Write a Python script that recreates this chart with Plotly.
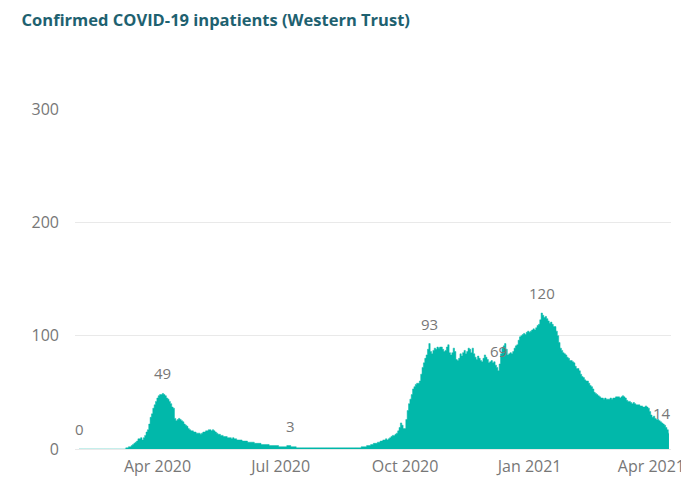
import pandas as pd
import plotly.graph_objects as go

# Daily confirmed COVID-19 inpatients, Western Trust
start_date = "2020-02-03"
feb2020 = [0] * 27
mar2020 = [0, 0, 0, 0, 0, 0, 0, 0, 1, 1, 2, 2, 3, 4, 5, 6, 7, 9, 9, 10, 8, 10, 12, 15, 17, 22, 28, 31, 36, 39, 42]
apr2020 = [45, 47, 48, 48, 49, 48, 47, 45, 44, 42, 40, 37, 36, 27, 25, 26, 27, 26, 25, 24, 22, 21, 20, 18, 17, 16, 16, 15, 15, 14]
may2020 = [14, 14, 13, 14, 15, 15, 16, 16, 17, 17, 16, 17, 16, 15, 14, 13, 13, 12, 12, 11, 11, 11, 10, 10, 10, 9, 10, 9, 9, 8, 8]
jun2020 = [8, 8, 7, 7, 7, 7, 6, 6, 6, 6, 6, 5, 5, 5, 5, 5, 4, 4, 4, 4, 4, 4, 3, 3, 3, 3, 3, 3, 3, 2]
jul2020 = [2, 2, 2, 2, 2, 3, 3, 3, 2, 2, 2, 2, 1, 1, 1, 1, 1, 1, 1, 1, 1, 1, 1, 1, 1, 1, 1, 1, 1, 1, 1]
aug2020 = [1, 1, 1, 1, 1, 1, 1, 1, 1, 1, 1, 1, 1, 1, 1, 1, 1, 1, 1, 1, 1, 1, 1, 1, 1, 1, 1, 1, 1, 2, 2]
sep2020 = [2, 2, 3, 3, 3, 4, 4, 5, 5, 5, 6, 6, 7, 7, 8, 8, 9, 8, 9, 10, 11, 12, 12, 13, 14, 16, 19, 23, 21, 18]
oct2020 = [18, 26, 34, 40, 44, 48, 53, 55, 57, 58, 58, 60, 66, 72, 76, 80, 83, 88, 93, 86, 84, 87, 89, 88, 90, 89, 90, 90, 88, 86, 87]
nov2020 = [90, 92, 85, 83, 85, 89, 86, 79, 78, 80, 84, 82, 85, 87, 84, 86, 89, 88, 85, 89, 84, 81, 79, 82, 80, 78, 77, 80, 83, 81]
dec2020 = [79, 76, 77, 78, 76, 77, 74, 72, 69, 75, 84, 89, 91, 93, 88, 83, 84, 85, 84, 86, 89, 91, 92, 96, 99, 100, 101, 102, 101, 103, 104]
jan2021 = [103, 104, 105, 106, 105, 107, 109, 110, 114, 120, 118, 116, 117, 115, 113, 111, 112, 110, 108, 108, 104, 100, 94, 89, 87, 85, 84, 83, 81, 80, 78]
feb2021 = [78, 77, 76, 73, 71, 71, 69, 66, 64, 63, 61, 60, 60, 58, 56, 55, 53, 50, 49, 48, 47, 46, 45, 45, 44, 45, 44, 44]
mar2021 = [44, 45, 44, 45, 45, 46, 46, 46, 45, 46, 47, 46, 45, 43, 42, 42, 41, 40, 41, 40, 39, 39, 39, 38, 38, 37, 37, 38, 37, 36, 33]
apr2021 = [30, 28, 29, 27, 26, 26, 25, 24, 23, 22, 21, 19, 17, 14]

# Dates that carry a data label in the original
label_dates = ["2020-02-03", "2020-04-05", "2020-07-08", "2020-10-19", "2020-12-09", "2021-01-10", "2021-04-14"]

y_ticks = [0, 100, 200, 300]
x_tick_dates = ["2020-04-01", "2020-07-01", "2020-10-01", "2021-01-01", "2021-04-01"]
x_tick_text = ["Apr 2020", "Jul 2020", "Oct 2020", "Jan 2021", "Apr 2021"]

values = (feb2020 + mar2020 + apr2020 + may2020 + jun2020 + jul2020 + aug2020 + sep2020
          + oct2020 + nov2020 + dec2020 + jan2021 + feb2021 + mar2021 + apr2021)
dates = pd.date_range(start_date, periods=len(values), freq="D")
series = pd.Series(values, index=dates)

TEAL = "#01B8AA"
LABEL_GREY = "#777777"
FONT = "Open Sans"

fig = go.Figure()
fig.add_trace(go.Scatter(
    x=dates, y=values, mode="lines", line=dict(color=TEAL, width=0.5, shape="hvh"),
    fill="tozeroy", fillcolor=TEAL, hoverinfo="x+y", showlegend=False,
))

last_date = dates[-1]
for d in label_dates:
    ts = pd.Timestamp(d)
    v = int(series[ts])
    is_last = ts == last_date
    fig.add_annotation(
        x=ts, y=v, text=str(v), showarrow=False,
        xanchor="right" if is_last else "center",
        xshift=4 if is_last else 0,
        yanchor="bottom", yshift=8,
        font=dict(family=FONT, size=15, color=LABEL_GREY),
    )

# The page body has an 8px default margin, so the figure is 8px smaller
fig.update_layout(
    width=681, height=470,
    margin=dict(l=67, r=18, t=101, b=29, autoexpand=False),
    paper_bgcolor="white", plot_bgcolor="white",
    title=dict(
        text="<b>Confirmed COVID-19 inpatients (Western Trust)</b>",
        x=0.02, xanchor="left", y=0.974, yanchor="middle",
        font=dict(family=FONT, size=16.5, color="#1E6170"),
    ),
    xaxis=dict(
        type="date", automargin=False,
        range=[pd.Timestamp("2020-01-31"), pd.Timestamp("2021-04-15 12:00")],
        tickvals=[pd.Timestamp(d) for d in x_tick_dates], ticktext=x_tick_text,
        showgrid=False, zeroline=False, showline=False, ticks="",
        ticklabelstandoff=6,
        tickfont=dict(family=FONT, size=16, color=LABEL_GREY),
    ),
    yaxis=dict(
        range=[0, 300], tickvals=y_ticks, automargin=False,
        showgrid=True, gridcolor="#E9E9E9", gridwidth=1,
        zeroline=True, zerolinecolor="#E9E9E9", zerolinewidth=1,
        ticks="", ticklabelstandoff=15,
        tickfont=dict(family=FONT, size=16, color=LABEL_GREY),
    ),
)

fig.write_html("out.html")
